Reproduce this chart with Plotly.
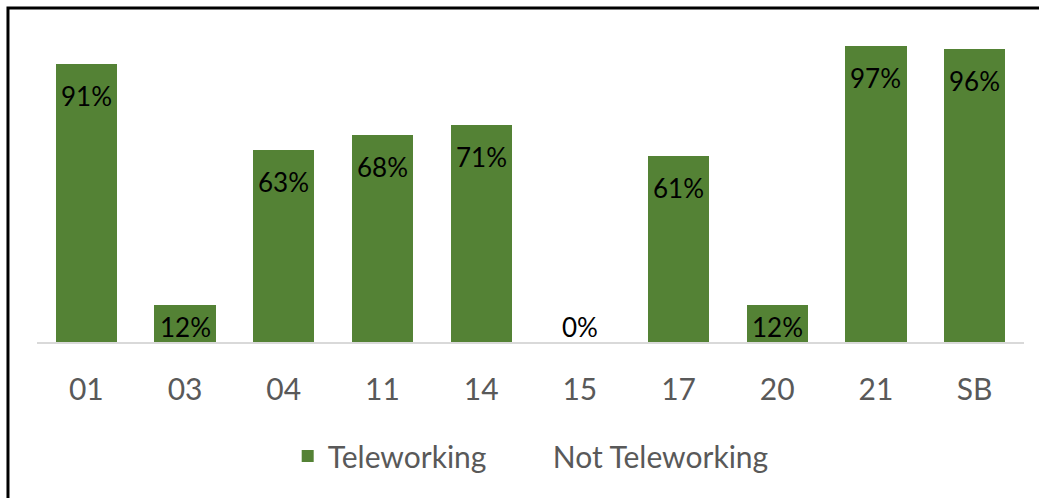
import plotly.graph_objects as go

# Share of staff teleworking, by unit
units = ["01", "03", "04", "11", "14", "15", "17", "20", "21", "SB"]
teleworking = [0.91, 0.12, 0.63, 0.68, 0.71, 0.00, 0.61, 0.12, 0.97, 0.96]
not_teleworking = [round(1 - v, 2) for v in teleworking]

GREEN = "#548235"
GREY_TEXT = "#595959"
FONT = "Lato"

fig = go.Figure()
fig.add_trace(go.Bar(
    x=units, y=teleworking, name="Teleworking",
    marker=dict(color=GREEN, line=dict(width=0)),
    hoverinfo="skip", legend="legend", showlegend=True,
))
fig.add_trace(go.Bar(
    x=units, y=not_teleworking, name="Not Teleworking",
    marker=dict(color="rgba(255,255,255,0)", line=dict(width=0)),
    hoverinfo="skip", legend="legend2", showlegend=True,
))

# value labels just inside the top of each bar; short bars keep the label near the base
# (category positions are given by index so codes like "01" stay categorical)
annotations = []
for i, v in enumerate(teleworking):
    if v >= 0.2:
        annotations.append(dict(x=i, y=v, yanchor="top", yshift=-14,
                                text=f"{v:.0%}", showarrow=False,
                                font=dict(family=FONT, size=26, color="#000000")))
    else:
        annotations.append(dict(x=i, y=0, yanchor="middle", yshift=15,
                                text=f"{v:.0%}", showarrow=False,
                                font=dict(family=FONT, size=26, color="#000000")))

legend_style = dict(
    orientation="h", y=-0.374, yanchor="middle", xanchor="left",
    font=dict(family=FONT, size=30, color=GREY_TEXT),
    bgcolor="rgba(0,0,0,0)",
)

fig.update_layout(
    showlegend=True,
    barmode="stack",
    bargap=0.38,
    width=1039, height=498,
    margin=dict(l=37, r=15, t=37, b=156),
    paper_bgcolor="white", plot_bgcolor="white",
    font=dict(family=FONT, color=GREY_TEXT),
    xaxis=dict(
        type="category", range=[-0.5, len(units) - 0.5],
        showline=True, linecolor="#d9d9d9", linewidth=1.5,
        showgrid=False, ticks="", ticklabelstandoff=20,
        tickfont=dict(family=FONT, size=30, color=GREY_TEXT),
    ),
    yaxis=dict(range=[0, 1], visible=False, showgrid=False, zeroline=False),
    legend=dict(x=0.254, **legend_style),
    legend2=dict(x=0.482, **legend_style),
    annotations=annotations,
    shapes=[
        # outer frame (left and top edges visible)
        dict(type="rect", xref="paper", yref="paper",
             x0=-0.0294, x1=1.03, y0=-0.55, y1=1.095,
             line=dict(color="black", width=3), fillcolor="rgba(0,0,0,0)"),
    ],
)

fig.write_html("out.html")
